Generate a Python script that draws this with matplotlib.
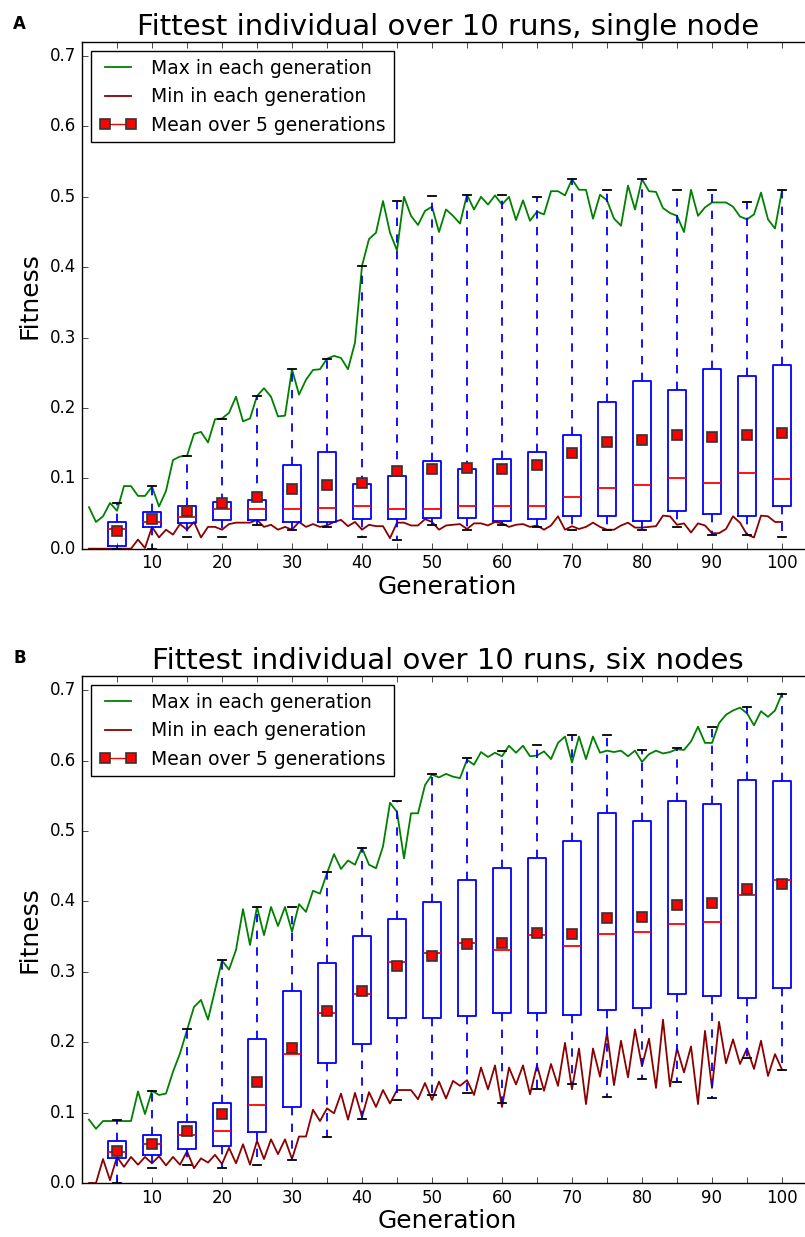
import matplotlib
matplotlib.use('Agg')
import matplotlib.pyplot as plt
from matplotlib.lines import Line2D

plt.style.use('classic')

gens = list(range(1, 101))
box_x = list(range(5, 101, 5))

# ---- panel A: single node ----
a_max = [0.059, 0.038, 0.046, 0.065, 0.054, 0.089, 0.089, 0.075, 0.075, 0.088,
         0.060, 0.082, 0.126, 0.131, 0.132, 0.163, 0.166, 0.151, 0.184, 0.185,
         0.193, 0.216, 0.181, 0.185, 0.217, 0.228, 0.216, 0.188, 0.189, 0.255,
         0.219, 0.240, 0.254, 0.255, 0.270, 0.274, 0.271, 0.255, 0.293, 0.402,
         0.440, 0.449, 0.494, 0.449, 0.424, 0.500, 0.473, 0.460, 0.480, 0.486,
         0.450, 0.482, 0.473, 0.462, 0.503, 0.482, 0.500, 0.489, 0.502, 0.489,
         0.500, 0.467, 0.495, 0.466, 0.479, 0.475, 0.508, 0.508, 0.502, 0.525,
         0.510, 0.510, 0.469, 0.503, 0.495, 0.469, 0.459, 0.516, 0.482, 0.525,
         0.508, 0.507, 0.484, 0.477, 0.473, 0.450, 0.510, 0.473, 0.485, 0.492,
         0.492, 0.492, 0.486, 0.472, 0.468, 0.475, 0.506, 0.468, 0.455, 0.509]
a_min = [0.0, 0.0, 0.0, 0.0, 0.0, 0.0, 0.0, 0.013, 0.001, 0.031,
         0.016, 0.027, 0.020, 0.035, 0.027, 0.038, 0.016, 0.031, 0.031, 0.027,
         0.035, 0.037, 0.037, 0.037, 0.041, 0.031, 0.034, 0.027, 0.031, 0.027,
         0.038, 0.031, 0.035, 0.031, 0.033, 0.038, 0.041, 0.032, 0.038, 0.027,
         0.034, 0.032, 0.032, 0.015, 0.037, 0.037, 0.033, 0.033, 0.042, 0.038,
         0.027, 0.033, 0.034, 0.035, 0.028, 0.036, 0.036, 0.033, 0.038, 0.036,
         0.031, 0.034, 0.035, 0.031, 0.033, 0.027, 0.033, 0.046, 0.027, 0.032,
         0.028, 0.031, 0.037, 0.031, 0.027, 0.027, 0.033, 0.037, 0.030, 0.030,
         0.031, 0.032, 0.047, 0.046, 0.034, 0.036, 0.023, 0.036, 0.033, 0.022,
         0.022, 0.028, 0.046, 0.037, 0.020, 0.016, 0.047, 0.046, 0.038, 0.038]
a_lo = [0.000, 0.000, 0.016, 0.016, 0.034, 0.027, 0.031, 0.017, 0.013, 0.033,
        0.027, 0.033, 0.031, 0.026, 0.026, 0.026, 0.031, 0.020, 0.020, 0.016]
a_q1 = [0.004, 0.031, 0.037, 0.041, 0.041, 0.038, 0.038, 0.042, 0.042, 0.043,
        0.043, 0.040, 0.042, 0.047, 0.047, 0.040, 0.054, 0.049, 0.047, 0.060]
a_med = [0.028, 0.038, 0.045, 0.057, 0.057, 0.057, 0.058, 0.061, 0.056, 0.057,
         0.061, 0.061, 0.060, 0.073, 0.086, 0.090, 0.100, 0.094, 0.107, 0.099]
a_q3 = [0.038, 0.052, 0.060, 0.067, 0.069, 0.119, 0.137, 0.092, 0.104, 0.125,
        0.113, 0.128, 0.138, 0.161, 0.208, 0.239, 0.226, 0.256, 0.246, 0.261]
a_hi = [0.065, 0.089, 0.132, 0.185, 0.217, 0.255, 0.270, 0.402, 0.494, 0.501,
        0.503, 0.502, 0.500, 0.526, 0.510, 0.526, 0.509, 0.510, 0.493, 0.509]
a_mean = [0.025, 0.042, 0.053, 0.065, 0.074, 0.085, 0.091, 0.094, 0.110, 0.113,
          0.114, 0.113, 0.119, 0.136, 0.152, 0.155, 0.161, 0.159, 0.161, 0.164]

# ---- panel B: six nodes ----
b_max = [0.090, 0.077, 0.088, 0.088, 0.088, 0.088, 0.088, 0.130, 0.098, 0.131,
         0.125, 0.127, 0.158, 0.184, 0.217, 0.250, 0.260, 0.232, 0.274, 0.316,
         0.303, 0.331, 0.389, 0.338, 0.392, 0.352, 0.392, 0.365, 0.392, 0.357,
         0.396, 0.385, 0.415, 0.411, 0.440, 0.467, 0.446, 0.458, 0.452, 0.476,
         0.452, 0.447, 0.478, 0.540, 0.527, 0.461, 0.525, 0.525, 0.565, 0.580,
         0.576, 0.581, 0.577, 0.575, 0.601, 0.594, 0.612, 0.605, 0.611, 0.606,
         0.621, 0.611, 0.621, 0.606, 0.607, 0.613, 0.602, 0.625, 0.634, 0.597,
         0.634, 0.602, 0.634, 0.611, 0.614, 0.612, 0.614, 0.606, 0.614, 0.598,
         0.609, 0.614, 0.610, 0.612, 0.616, 0.615, 0.627, 0.648, 0.625, 0.625,
         0.653, 0.665, 0.671, 0.675, 0.667, 0.650, 0.670, 0.662, 0.671, 0.695]
b_min = [0.0, 0.0, 0.034, 0.004, 0.037, 0.023, 0.037, 0.026, 0.037, 0.028,
         0.038, 0.025, 0.037, 0.026, 0.045, 0.021, 0.035, 0.029, 0.040, 0.027,
         0.050, 0.028, 0.055, 0.026, 0.060, 0.034, 0.062, 0.041, 0.062, 0.034,
         0.066, 0.066, 0.104, 0.088, 0.106, 0.099, 0.127, 0.090, 0.128, 0.094,
         0.129, 0.108, 0.132, 0.113, 0.132, 0.132, 0.132, 0.119, 0.142, 0.118,
         0.144, 0.120, 0.145, 0.138, 0.146, 0.125, 0.164, 0.133, 0.167, 0.108,
         0.164, 0.140, 0.167, 0.126, 0.167, 0.131, 0.169, 0.138, 0.199, 0.133,
         0.191, 0.112, 0.191, 0.151, 0.213, 0.139, 0.202, 0.150, 0.218, 0.166,
         0.205, 0.135, 0.232, 0.137, 0.191, 0.157, 0.194, 0.112, 0.216, 0.135,
         0.229, 0.170, 0.204, 0.169, 0.191, 0.162, 0.202, 0.152, 0.183, 0.161]
b_lo = [0.000, 0.022, 0.025, 0.021, 0.025, 0.033, 0.066, 0.091, 0.118, 0.125,
        0.128, 0.113, 0.134, 0.140, 0.122, 0.148, 0.143, 0.121, 0.177, 0.161]
b_q1 = [0.035, 0.040, 0.048, 0.052, 0.072, 0.108, 0.170, 0.197, 0.235, 0.235,
        0.237, 0.241, 0.241, 0.238, 0.245, 0.248, 0.268, 0.265, 0.263, 0.277]
b_med = [0.044, 0.056, 0.068, 0.074, 0.111, 0.183, 0.241, 0.268, 0.314, 0.326,
         0.341, 0.331, 0.352, 0.336, 0.353, 0.357, 0.368, 0.370, 0.409, 0.431]
b_q3 = [0.059, 0.068, 0.086, 0.114, 0.205, 0.273, 0.312, 0.351, 0.375, 0.399,
        0.430, 0.448, 0.462, 0.485, 0.525, 0.514, 0.542, 0.538, 0.573, 0.571]
b_hi = [0.089, 0.131, 0.218, 0.316, 0.392, 0.392, 0.441, 0.476, 0.543, 0.581,
        0.604, 0.613, 0.622, 0.636, 0.636, 0.615, 0.618, 0.648, 0.676, 0.695]
b_mean = [0.046, 0.056, 0.074, 0.098, 0.143, 0.192, 0.244, 0.273, 0.308, 0.322,
          0.340, 0.341, 0.355, 0.354, 0.376, 0.378, 0.395, 0.397, 0.417, 0.424]

LW = 1.3


def draw(ax, title, mx, mn, lo, q1, med, q3, hi, mean):
  ax.plot(gens, mx, color='green', lw=LW)
  ax.plot(gens, mn, color='#8b0000', lw=LW)
  stats = []
  for i in range(len(box_x)):
    stats.append(dict(whislo=lo[i], q1=q1[i], med=med[i], q3=q3[i],
                      whishi=hi[i], fliers=[]))
  ax.bxp(stats, positions=box_x, widths=2.5, showfliers=False,
         manage_ticks=False,
         boxprops=dict(color='b', linewidth=LW),
         whiskerprops=dict(color='b', linestyle='--', linewidth=LW),
         capprops=dict(color='k', linewidth=LW),
         medianprops=dict(color='r', linewidth=LW))
  ax.plot(box_x, mean, ls='none', marker='s', color='red', ms=7.5,
          mec='#333333', mew=1.2, zorder=5)

  handles = [Line2D([], [], color='green', lw=LW),
             Line2D([], [], color='#8b0000', lw=LW),
             Line2D([], [], color='red', marker='s', ms=7.5, mec='#333333',
                    mew=1.2)]
  names = ['Max in each generation', 'Min in each generation',
           'Mean over 5 generations']
  ax.legend(handles, names, loc='upper left', fontsize=13.5, numpoints=2,
            fancybox=False)

  # right edge of the axes falls just outside the picture, as in the original
  ax.set_xlim(0, 104.5)
  ax.set_ylim(0, 0.72)
  ax.set_xticks(box_x)
  ax.set_xticklabels([str(x) if x % 10 == 0 else '' for x in box_x])
  yt = [0.0, 0.1, 0.2, 0.3, 0.4, 0.5, 0.6, 0.7]
  ax.set_yticks(yt)
  ax.set_yticklabels(['%.1f' % v for v in yt])
  ax.tick_params(labelsize=12)
  ax.set_title(title, fontsize=21)
  ax.set_xlabel('Generation', fontsize=18, labelpad=2)
  ax.set_ylabel('Fitness', fontsize=18, labelpad=6)


fig = plt.figure(figsize=(8.05, 12.37), dpi=100, facecolor='white')
W, H = 805.0, 1237.0
axA = fig.add_axes([82 / W, 1 - 548.7 / H, 731.5 / W, 506.7 / H])
axB = fig.add_axes([82 / W, 1 - 1183 / H, 731.5 / W, 507 / H])

draw(axA, 'Fittest individual over 10 runs, single node',
     a_max, a_min, a_lo, a_q1, a_med, a_q3, a_hi, a_mean)
draw(axB, 'Fittest individual over 10 runs, six nodes',
     b_max, b_min, b_lo, b_q1, b_med, b_q3, b_hi, b_mean)

fig.text(13 / W, 1 - 15 / H, 'A', fontsize=12, weight='bold', va='top')
fig.text(13 / W, 1 - 649 / H, 'B', fontsize=12, weight='bold', va='top')

fig.savefig('out.png', dpi=100, facecolor='white')
